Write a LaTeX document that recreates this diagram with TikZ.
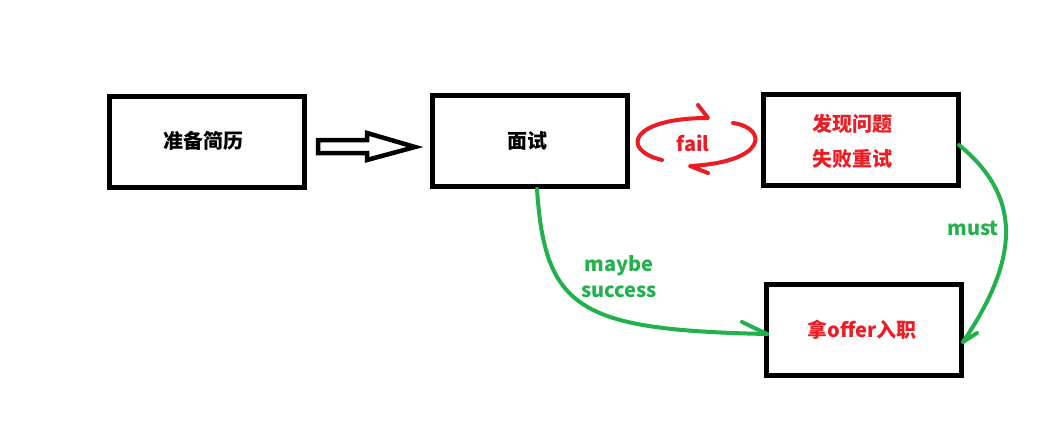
\documentclass[tikz,border=0pt]{standalone}
\usepackage{fontspec}
\setmainfont{Noto Sans CJK SC}
\definecolor{pred}{HTML}{ED1C24}
\definecolor{pgreen}{HTML}{22B14C}
\begin{document}
\begin{tikzpicture}[x=1pt,y=-1pt,
  box/.style={draw=black,line width=5pt,minimum width=195pt,minimum height=91pt,inner sep=0pt},
  lbl/.style={font=\fontsize{20}{23}\selectfont\bfseries,inner sep=0pt},
  redline/.style={draw=pred,line width=4pt,line cap=round,line join=round},
  greenline/.style={draw=pgreen,line width=4pt,line cap=round,line join=round}]
\useasboundingbox (0,0) rectangle (1060,444);
\fill[white] (0,0) rectangle (1060,444);
% boxes
\node[box] (b1) at (207,142) {};
\node[box] (b2) at (530,141) {};
\node[box] (b3) at (861,140) {};
\node[box] (b4) at (864,330) {};
% texts
\node[lbl] (t1) at (203,141) {准备简历};
\node[lbl] (t2) at (527,141) {面试};
\node[lbl,text=pred] (t3a) at (852,124) {发现问题};
\node[lbl,text=pred] (t3b) at (852,159) {失败重试};
\node[lbl,text=pred] (t4) at (862,330) {拿offer入职};
\node[lbl,text=pred] (fail) at (693,143) {fail};
\node[lbl,text=pgreen] (must) at (973,228) {must};
\node[lbl,text=pgreen] (maybe) at (619,266) {maybe};
\node[lbl,text=pgreen] (succ) at (619,292) {success};
% hollow arrow
\coordinate (ha) at (318,146);
\draw[line width=4.5pt,line join=miter] (ha) ++(0,-6) -- (367,140) -- (367,133) -- (415,147) -- (367,160) -- (367,153) -- (318,153) -- cycle;
% fail cycle
\coordinate (ua) at (662,160);
\coordinate (ub) at (708,118);
\coordinate (la) at (733,123);
\coordinate (lb) at (690,166);
\draw[redline] (ua) .. controls (620,150) and (630,118) .. (ub) -- (698,105);
\draw[redline] (la) .. controls (768,128) and (768,162) .. (lb) -- (708,173);
% green connectors
\draw[greenline] ([xshift=7pt]b2.south) .. controls (545,310) and (580,330) .. ([xshift=3pt,yshift=-4pt]b4.west) coordinate (g1);
\draw[greenline] (g1) -- (742,322);
\draw[greenline] ([yshift=-5pt,xshift=-2pt]b3.east) .. controls (1020,195) and (1022,255) .. ([xshift=-1pt,yshift=-12pt]b4.east) coordinate (g2);
\draw[greenline] (g2) -- (977,333);
\end{tikzpicture}
\end{document}
